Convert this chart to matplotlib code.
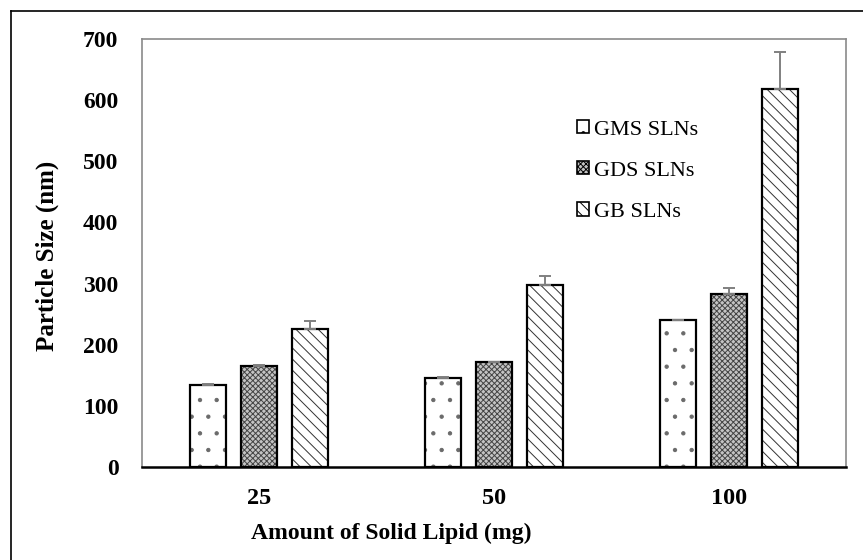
import matplotlib
matplotlib.use("Agg")
import matplotlib.pyplot as plt
import numpy as np
from matplotlib.patches import Patch
from matplotlib.lines import Line2D

categories = ["25", "50", "100"]
series_names = ["GMS SLNs", "GDS SLNs", "GB SLNs"]
gms = [134, 146, 240]
gds = [165, 171, 283]
gb = [226, 297, 619]
gms_err = [2, 1, 1]
gds_err = [1, 1, 10]
gb_err = [13, 15, 60]
y_ticks = [0, 100, 200, 300, 400, 500, 600, 700]

plt.rcParams['hatch.linewidth'] = 0.7
serif = ['Liberation Serif', 'DejaVu Serif']

W, H = 863, 560
fig = plt.figure(figsize=(W / 100, H / 100), dpi=100)
ax = fig.add_axes([142 / W, 1 - 466.7 / H, 704 / W, 427.4 / H])

x = np.arange(len(categories))
off = 0.2173
bw = 0.1534

styles = [
    dict(face='white', hatch='.', hcol='#6a6a6a'),
    dict(face='#c4c4c4', hatch='xxxxxx', hcol='#444444'),
    dict(face='white', hatch='\\\\\\', hcol='#333333'),
]
data = [gms, gds, gb]
errs = [gms_err, gds_err, gb_err]

for i, (vals, err, st) in enumerate(zip(data, errs, styles)):
    pos = x + (i - 1) * off
    ax.bar(pos, vals, width=bw, color=st['face'], edgecolor=st['hcol'],
           hatch=st['hatch'], linewidth=0, zorder=2)
    ax.bar(pos, vals, width=bw, fill=False, edgecolor='black',
           linewidth=1.6, zorder=3)
    ax.errorbar(pos, vals, yerr=[np.zeros(len(vals)), err], fmt='none',
                ecolor='#808080', elinewidth=1.4, capsize=4.5, capthick=1.4,
                zorder=4)

ax.set_xlim(-0.5, 2.5)
ax.set_ylim(0, 700)
ax.set_yticks(y_ticks)
ax.set_xticks(x)
ax.set_xticklabels(categories)
ax.tick_params(axis='both', length=0)
ax.tick_params(axis='y', pad=17)
ax.tick_params(axis='x', pad=15)
for lab in ax.get_yticklabels():
    lab.set_fontfamily(serif)
    lab.set_fontweight('bold')
    lab.set_fontsize(17)
for lab in ax.get_xticklabels():
    lab.set_fontfamily(serif)
    lab.set_fontweight('bold')
    lab.set_fontsize(17.5)

for s in ['left', 'top', 'right']:
    ax.spines[s].set_color('#8a8a8a')
    ax.spines[s].set_linewidth(1.2)
ax.spines['bottom'].set_color('black')
ax.spines['bottom'].set_linewidth(1.8)

fig.text(47 / W, 1 - 256 / H, "Particle Size (nm)", rotation=90,
         ha='center', va='center', fontfamily=serif, fontweight='bold',
         fontsize=18)
fig.text(391 / W, 1 - 533 / H, "Amount of Solid Lipid (mg)",
         ha='center', va='center', fontfamily=serif, fontweight='bold',
         fontsize=17)

handles = []
for st in styles:
    handles.append(Patch(facecolor=st['face'], edgecolor='black',
                         hatch=st['hatch'], linewidth=1.2))
leg = fig.legend(handles, series_names, loc='upper left',
                 bbox_to_anchor=(577 / W, 1 - 120 / H), frameon=False,
                 borderpad=0, borderaxespad=0, handlelength=0.55,
                 handleheight=0.55, handletextpad=0.2, labelspacing=0.97,
                 prop=dict(family=serif, size=16))

# outer frame (left and top edges visible)
fig.add_artist(Line2D([11 / W, 11 / W], [0, 1 - 11 / H], transform=fig.transFigure,
                      color='black', linewidth=1.2))
fig.add_artist(Line2D([11 / W, 1], [1 - 11 / H, 1 - 11 / H], transform=fig.transFigure,
                      color='black', linewidth=1.2))

fig.savefig("out.png", dpi=100)
